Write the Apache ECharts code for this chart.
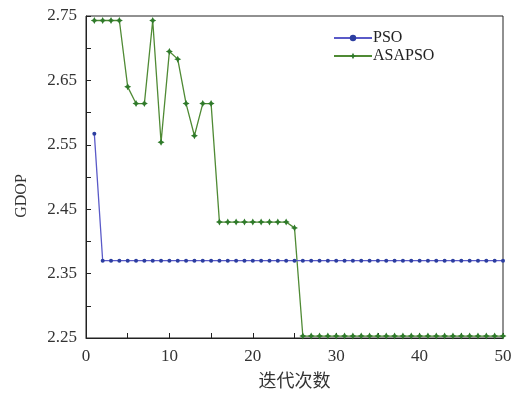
<!DOCTYPE html>
<html><head><meta charset="utf-8">
<script src="https://cdn.jsdelivr.net/npm/echarts@6/dist/echarts.min.js"></script>
<style>html,body{margin:0;padding:0;background:#fff}#c{width:524px;height:394px}</style>
</head><body><div id="c"></div>
<script>
const iterations = Array.from({length: 50}, (_, i) => i + 1);
const psoValues = [2.567,
  2.37,2.37,2.37,2.37,2.37,2.37,2.37,2.37,2.37,
  2.37,2.37,2.37,2.37,2.37,2.37,2.37,2.37,2.37,2.37,
  2.37,2.37,2.37,2.37,2.37,2.37,2.37,2.37,2.37,2.37,
  2.37,2.37,2.37,2.37,2.37,2.37,2.37,2.37,2.37,2.37,
  2.37,2.37,2.37,2.37,2.37,2.37,2.37,2.37,2.37,2.37];
const asapsoValues = [2.743,2.743,2.743,2.743,2.640,2.614,2.614,2.743,2.554,2.695,
  2.683,2.614,2.564,2.614,2.614,2.430,2.430,2.430,2.430,2.430,
  2.430,2.430,2.430,2.430,2.421,2.253,2.253,2.253,2.253,2.253,
  2.253,2.253,2.253,2.253,2.253,2.253,2.253,2.253,2.253,2.253,
  2.253,2.253,2.253,2.253,2.253,2.253,2.253,2.253,2.253,2.253];
const seriesNames = ['PSO', 'ASAPSO'];
const xTitle = '迭代次数';
const yTitle = 'GDOP';

const serif = '"Liberation Serif","DejaVu Serif",serif';
const star = 'path://M0,-10 L3.5,-3.5 L10,0 L3.5,3.5 L0,10 L-3.5,3.5 L-10,0 L-3.5,-3.5 Z';
const chart = echarts.init(document.getElementById('c'));
chart.setOption({
  backgroundColor: '#fff',
  animation: false,
  grid: {left: 86, right: 21, top: 16, bottom: 53, show: true, borderColor: '#222', borderWidth: 1, backgroundColor: 'transparent'},
  legend: {
    left: 328, top: 25, orient: 'vertical', itemWidth: 38, itemHeight: 8, itemGap: 2,
    textStyle: {fontFamily: serif, fontSize: 16, color: '#222', padding: [0,0,0,-4]},
    data: seriesNames
  },
  xAxis: {
    type: 'value', min: 0, max: 50, interval: 10,
    axisLine: {lineStyle: {color: '#222'}},
    axisTick: {inside: true, length: 5, lineStyle: {color: '#222'}},
    minorTick: {show: true, splitNumber: 2, length: 5, lineStyle: {color: '#222'}},
    splitLine: {show: false},
    axisLabel: {fontFamily: serif, fontSize: 17, color: '#333', margin: 10},
    name: xTitle, nameLocation: 'middle', nameGap: 33,
    nameTextStyle: {fontFamily: '"Noto Sans CJK SC",sans-serif', fontSize: 18, color: '#333'}
  },
  yAxis: {
    type: 'value', min: 2.25, max: 2.75, interval: 0.1,
    axisLine: {lineStyle: {color: '#222'}},
    axisTick: {inside: true, length: 5, lineStyle: {color: '#222'}},
    minorTick: {show: true, splitNumber: 2, length: 5, lineStyle: {color: '#222'}},
    splitLine: {show: false},
    axisLabel: {fontFamily: serif, fontSize: 17, color: '#333', margin: 9, formatter: v => v.toFixed(2)},
    name: yTitle, nameLocation: 'middle', nameGap: 56,
    nameTextStyle: {fontFamily: serif, fontSize: 16, color: '#333', padding: [0, 38, 0, 0]}
  },
  series: [
    {name: seriesNames[0], type: 'line', data: iterations.map((x, i) => [x, psoValues[i]]),
     symbol: 'circle', symbolSize: 4, showAllSymbol: true,
     lineStyle: {color: '#5a5ac8', width: 1.3}, itemStyle: {color: '#2c3ea0'}, z: 3},
    {name: seriesNames[1], type: 'line', data: iterations.map((x, i) => [x, asapsoValues[i]]),
     symbol: star, symbolSize: 7, showAllSymbol: true,
     lineStyle: {color: '#4f8a34', width: 1.3}, itemStyle: {color: '#2f7a2a'}, z: 2}
  ]
});
</script></body></html>
